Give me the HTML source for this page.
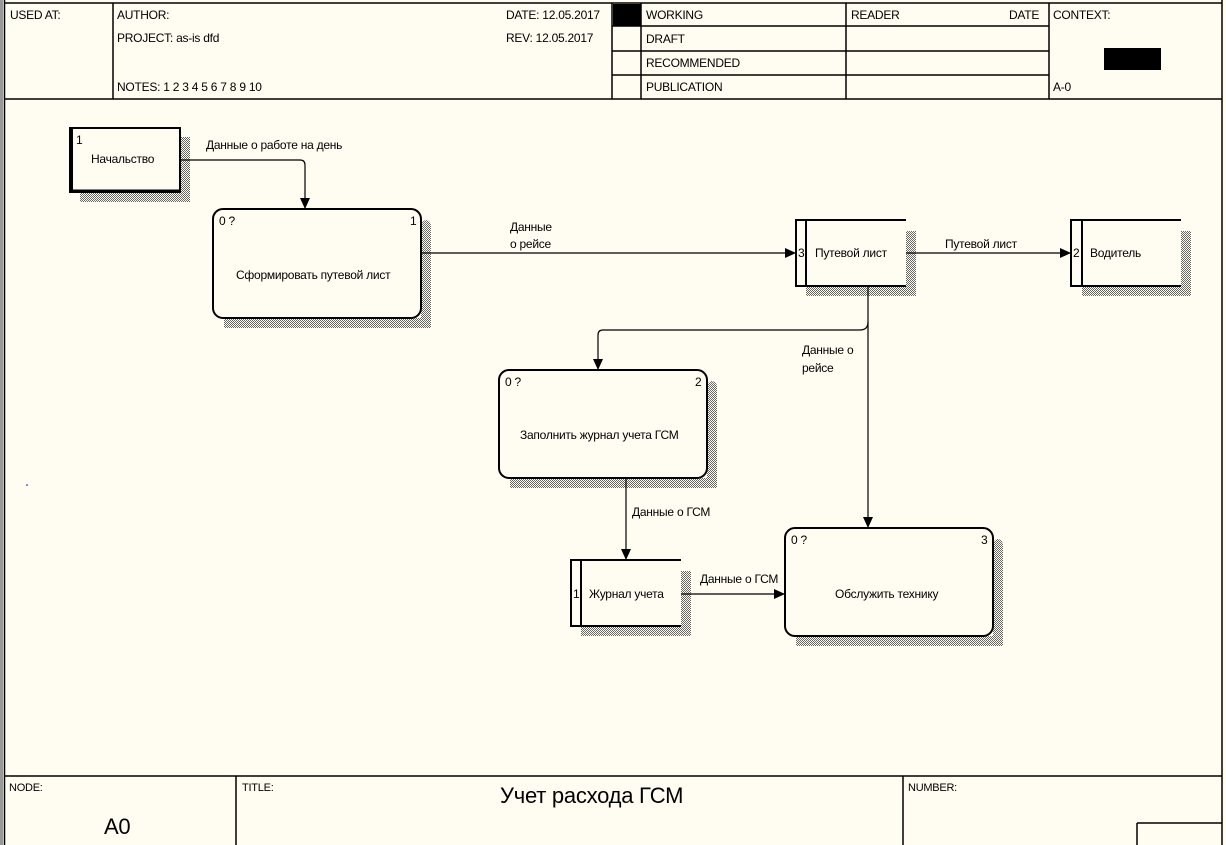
<!DOCTYPE html>
<html><head><meta charset="utf-8"><style>
html,body{margin:0;padding:0;background:#fffcf2;}
svg{display:block;}
text{font-family:"Liberation Sans","Noto Sans CJK SC",sans-serif;font-size:12px;letter-spacing:-0.25px;fill:#000;}
</style></head><body>
<svg width="1226" height="845" viewBox="0 0 1226 845" xmlns="http://www.w3.org/2000/svg">
<defs>
<pattern id="h" width="2" height="2" patternUnits="userSpaceOnUse">
<rect width="2" height="2" fill="#fffcf2"/><rect width="1" height="1" fill="#666"/><rect x="1" y="1" width="1" height="1" fill="#666"/>
</pattern>
<marker id="a" markerWidth="11" markerHeight="10" refX="11" refY="5" orient="auto" markerUnits="userSpaceOnUse">
<path d="M0,0 L11,5 L0,10 Z" fill="#000"/></marker>
</defs>
<rect width="1226" height="845" fill="#fffcf2"/>
<rect x="0" y="0" width="3" height="845" fill="#999"/>
<g stroke="#000" stroke-width="1.5" fill="none">
<line x1="4.5" y1="0" x2="4.5" y2="845"/>
<line x1="1222" y1="0" x2="1222" y2="845"/>
<line x1="4" y1="3" x2="1222" y2="3"/>
<line x1="4" y1="99" x2="1222" y2="99"/>
<line x1="113" y1="3" x2="113" y2="99"/>
<line x1="612" y1="3" x2="612" y2="99"/>
<line x1="641" y1="3" x2="641" y2="99"/>
<line x1="846" y1="3" x2="846" y2="99"/>
<line x1="1049" y1="3" x2="1049" y2="99"/>
<line x1="612" y1="26" x2="1049" y2="26"/>
<line x1="612" y1="51" x2="1049" y2="51"/>
<line x1="612" y1="75" x2="1049" y2="75"/>
<line x1="4" y1="776" x2="1222" y2="776"/>
<line x1="236" y1="776" x2="236" y2="845"/>
<line x1="903" y1="776" x2="903" y2="845"/>
<line x1="1137" y1="823" x2="1222" y2="823"/>
<line x1="1137" y1="823" x2="1137" y2="845"/>
</g>
<rect x="613" y="4" width="28" height="22" fill="#000"/>
<rect x="1104" y="48" width="57" height="22" fill="#000"/>
<text x="10" y="19">USED AT:</text>
<text x="117" y="19">AUTHOR:</text>
<text x="117" y="42">PROJECT:  as-is dfd</text>
<text x="117" y="91">NOTES:  1  2  3  4  5  6  7  8  9  10</text>
<text x="506" y="19">DATE:  12.05.2017</text>
<text x="506" y="42">REV:     12.05.2017</text>
<text x="646" y="19">WORKING</text>
<text x="646" y="43">DRAFT</text>
<text x="646" y="67">RECOMMENDED</text>
<text x="646" y="91">PUBLICATION</text>
<text x="851" y="19">READER</text>
<text x="1009" y="19">DATE</text>
<text x="1053" y="19">CONTEXT:</text>
<text x="1053" y="91">A-0</text>
<text x="9" y="791" style="font-size:11px">NODE:</text>
<text x="242" y="791" style="font-size:11px">TITLE:</text>
<text x="908" y="791" style="font-size:11px">NUMBER:</text>
<text x="104" y="834" style="font-size:22px">A0</text>
<text x="500" y="803" style="font-size:22px">Учет расхода ГСМ</text>
<circle cx="27" cy="485" r="0.8" fill="#00a"/>

<g fill="url(#h)">
<rect x="180" y="137" width="10" height="65"/><rect x="80" y="192" width="110" height="10"/>
<rect x="421" y="220" width="10" height="108" rx="6"/><rect x="224" y="318" width="207" height="10"/>
<rect x="707" y="381" width="10" height="107" rx="6"/><rect x="510" y="478" width="207" height="10"/>
<rect x="993" y="539" width="10" height="107" rx="6"/><rect x="796" y="636" width="207" height="10"/>
<rect x="906" y="231" width="10" height="65"/><rect x="806" y="286" width="110" height="10"/>
<rect x="1181" y="231" width="10" height="65"/><rect x="1082" y="286" width="109" height="10"/>
<rect x="681" y="571" width="10" height="65"/><rect x="581" y="626" width="110" height="10"/>
</g>
<rect x="70" y="128" width="110" height="64" fill="#fffcf2" stroke="#000" stroke-width="2"/>
<line x1="71" y1="127" x2="71" y2="193" stroke="#000" stroke-width="4"/>
<line x1="70" y1="191" x2="180" y2="191" stroke="#000" stroke-width="3"/>
<text x="76" y="144">1</text>
<text x="91" y="163">Начальство</text>
<g fill="#fffcf2" stroke="#000" stroke-width="2">
<rect x="213" y="209" width="208" height="109" rx="10"/>
<rect x="499" y="370" width="208" height="108" rx="10"/>
<rect x="785" y="528" width="208" height="108" rx="10"/>
</g>
<text x="219" y="225">0 ?</text><text x="410" y="225">1</text>
<text x="236" y="279">Сформировать путевой лист</text>
<text x="505" y="386">0 ?</text><text x="695" y="386">2</text>
<text x="520" y="439">Заполнить журнал учета ГСМ</text>
<text x="791" y="544">0 ?</text><text x="981" y="544">3</text>
<text x="835" y="598">Обслужить технику</text>
<g stroke="#000" stroke-width="2" fill="none">
<path d="M906,220 H796 V286 H906"/><line x1="806" y1="220" x2="806" y2="286"/>
<path d="M1181,220 H1071 V286 H1181"/><line x1="1082" y1="220" x2="1082" y2="286"/>
<path d="M681,560 H571 V626 H681"/><line x1="581" y1="560" x2="581" y2="626"/>
</g>
<text x="798" y="257">3</text><text x="815" y="257">Путевой лист</text>
<text x="1073" y="257">2</text><text x="1090" y="257">Водитель</text>
<text x="573" y="598">1</text><text x="589" y="598">Журнал учета</text>
<g stroke="#000" stroke-width="1.2" fill="none" marker-end="url(#a)">
<path d="M180,160 H300 Q305,160 305,165 V209"/>
<path d="M421,253 H796"/>
<path d="M906,253 H1071"/>
<path d="M868,286 V528"/>
<path d="M868,322 Q868,330 860,330 H603 Q598,330 598,335 V370"/>
<path d="M626,478 V560"/>
<path d="M681,594 H785"/>
</g>
<text x="206" y="149">Данные о работе на день</text>
<text x="510" y="231">Данные</text>
<text x="510" y="248">о рейсе</text>
<text x="945" y="248">Путевой лист</text>
<text x="802" y="354">Данные о</text>
<text x="802" y="372">рейсе</text>
<text x="632" y="516">Данные о ГСМ</text>
<text x="700" y="583">Данные о ГСМ</text>
</svg>
</body></html>
